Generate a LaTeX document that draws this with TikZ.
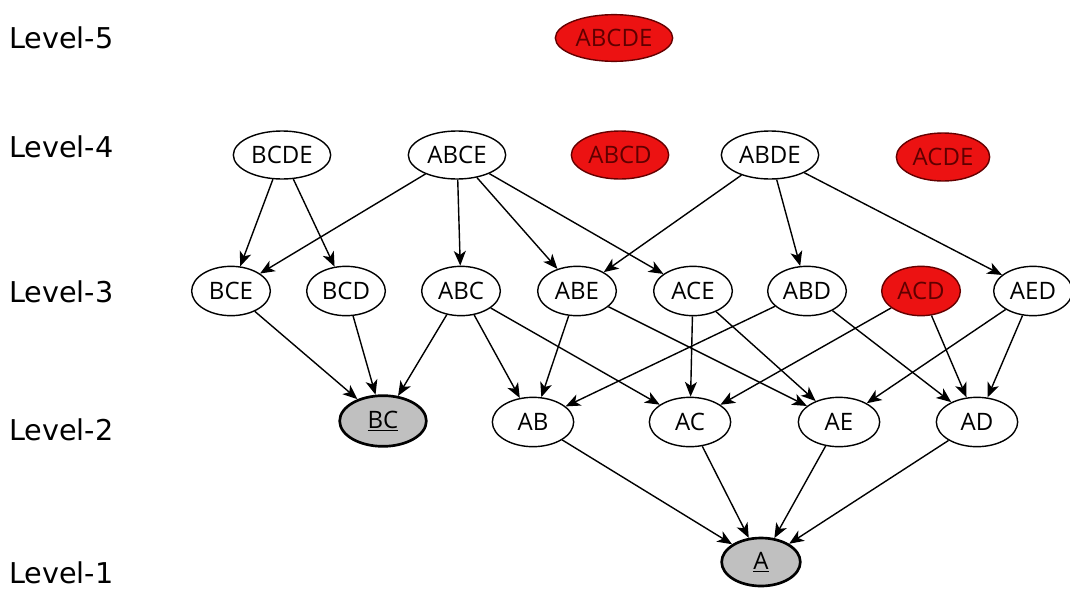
\documentclass[tikz,border=0pt]{standalone}
\usepackage{fontspec}
\setmainfont{Open Sans}
\newfontfamily\levelfont{DejaVu Sans}
\usetikzlibrary{arrows.meta,shapes.geometric}

\definecolor{prunedfill}{RGB}{236,18,18}
\definecolor{prunedtext}{RGB}{95,0,0}
\definecolor{prunedline}{RGB}{100,0,0}
\definecolor{keyfill}{RGB}{192,192,192}

\tikzset{
  itemset/.style={ellipse, draw=black, line width=1.05pt, fill=white,
    inner sep=0pt, font=\fontsize{18}{20}\selectfont},
  lvl5/.style={itemset, minimum width=88pt, minimum height=35pt},
  lvl4/.style={itemset, minimum width=73pt, minimum height=36pt},
  lvl3/.style={itemset, minimum width=59pt, minimum height=37pt},
  lvl2/.style={itemset, minimum width=61pt, minimum height=37pt},
  pruned/.style={fill=prunedfill, draw=prunedline, text=prunedtext},
  minkey/.style={fill=keyfill, line width=2pt},
  levellabel/.style={anchor=west, inner sep=0pt,
    font=\levelfont\fontsize{21.5}{24}\selectfont},
  sub/.style={-{Stealth[length=11pt,width=9pt,inset=3pt]}, line width=1.05pt, black}
}

\begin{document}
\begin{tikzpicture}[x=0.75pt, y=-0.75pt]
  \useasboundingbox (0,0) rectangle (1070,589);

  % level captions
  \node[levellabel] (L5) at (9,38)  {Level-5};
  \node[levellabel] (L4) at (9,147) {Level-4};
  \node[levellabel] (L3) at (9,292) {Level-3};
  \node[levellabel] (L2) at (9,430) {Level-2};
  \node[levellabel] (L1) at (9,573) {Level-1};

  % level 5
  \node[lvl5, pruned] (ABCDE) at (614,38) {ABCDE};

  % level 4
  \node[lvl4] (BCDE) at (282,155) {BCDE};
  \node[lvl4] (ABCE) at (457,155) {ABCE};
  \node[lvl4, pruned] (ABCD) at (620,155) {ABCD};
  \node[lvl4] (ABDE) at (770,155) {ABDE};
  \node[lvl4, pruned, minimum width=70pt] (ACDE) at (943,157) {ACDE};

  % level 3
  \node[lvl3] (BCE) at (231,291) {BCE};
  \node[lvl3] (BCD) at (346,291) {BCD};
  \node[lvl3] (ABC) at (461,291) {ABC};
  \node[lvl3] (ABE) at (577,291) {ABE};
  \node[lvl3] (ACE) at (693,291) {ACE};
  \node[lvl3] (ABD) at (807,291) {ABD};
  \node[lvl3, pruned] (ACD) at (921,291) {ACD};
  \node[lvl3] (AED) at (1033,291) {AED};

  % level 2
  \node[lvl2, minkey, minimum width=65pt, minimum height=38pt] (BC) at (383,421) {\underline{BC}};
  \node[lvl2] (AB) at (533,422) {AB};
  \node[lvl2] (AC) at (690,422) {AC};
  \node[lvl2] (AE) at (839,422) {AE};
  \node[lvl2] (AD) at (977,422) {AD};

  % level 1
  \node[lvl2, minkey, minimum width=59pt, minimum height=36pt] (A) at (761,562) {\underline{A}};

  % level 4 -> level 3
  \draw[sub] (BCDE) -- (BCE);
  \draw[sub] (BCDE) -- (BCD);
  \draw[sub] (ABCE) -- (BCE);
  \draw[sub] (ABCE) -- (ABC);
  \draw[sub] (ABCE) -- (ABE);
  \draw[sub] (ABCE) -- (ACE);
  \draw[sub] (ABDE) -- (ABE);
  \draw[sub] (ABDE) -- (ABD);
  \draw[sub] (ABDE) -- (AED);

  % level 3 -> level 2
  \draw[sub] (BCE) -- (BC);
  \draw[sub] (BCD) -- (BC);
  \draw[sub] (ABC) -- (BC);
  \draw[sub] (ABC) -- (AB);
  \draw[sub] (ABC) -- (AC);
  \draw[sub] (ABE) -- (AB);
  \draw[sub] (ABE) -- (AE);
  \draw[sub] (ACE) -- (AC);
  \draw[sub] (ACE) -- (AE);
  \draw[sub] (ABD) -- (AB);
  \draw[sub] (ABD) -- (AD);
  \draw[sub] (ACD) -- (AC);
  \draw[sub] (ACD) -- (AD);
  \draw[sub] (AED) -- (AE);
  \draw[sub] (AED) -- (AD);

  % level 2 -> level 1
  \draw[sub] (AB) -- (A);
  \draw[sub] (AC) -- (A);
  \draw[sub] (AE) -- (A);
  \draw[sub] (AD) -- (A);
\end{tikzpicture}
\end{document}
